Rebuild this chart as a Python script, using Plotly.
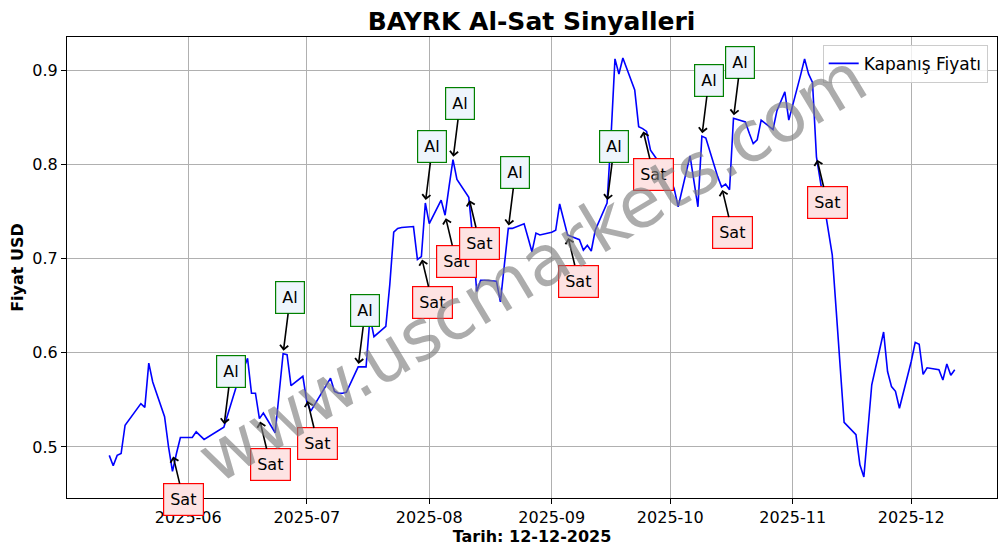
import plotly.graph_objects as go
import pandas as pd

# ---- data ----
dates = [
    "2025-05-12", "2025-05-13", "2025-05-14", "2025-05-15", "2025-05-16",
    "2025-05-20", "2025-05-21", "2025-05-22", "2025-05-23", "2025-05-26",
    "2025-05-27", "2025-05-28", "2025-05-29", "2025-05-30",
    "2025-06-02", "2025-06-03", "2025-06-04", "2025-06-05", "2025-06-10",
    "2025-06-11", "2025-06-12", "2025-06-13", "2025-06-16", "2025-06-17",
    "2025-06-18", "2025-06-19", "2025-06-20", "2025-06-23", "2025-06-24",
    "2025-06-25", "2025-06-26", "2025-06-27", "2025-06-30",
    "2025-07-01", "2025-07-02", "2025-07-03", "2025-07-04", "2025-07-07",
    "2025-07-08", "2025-07-09", "2025-07-10", "2025-07-11", "2025-07-14",
    "2025-07-16", "2025-07-17", "2025-07-18", "2025-07-21", "2025-07-22",
    "2025-07-23", "2025-07-24", "2025-07-25", "2025-07-28", "2025-07-29",
    "2025-07-30", "2025-07-31",
    "2025-08-01", "2025-08-04", "2025-08-05", "2025-08-06", "2025-08-07",
    "2025-08-08", "2025-08-11", "2025-08-12", "2025-08-13", "2025-08-14",
    "2025-08-15", "2025-08-18", "2025-08-19", "2025-08-20", "2025-08-21",
    "2025-08-22", "2025-08-25", "2025-08-26", "2025-08-27", "2025-08-28",
    "2025-08-29",
    "2025-09-01", "2025-09-02", "2025-09-03", "2025-09-04", "2025-09-05",
    "2025-09-08", "2025-09-09", "2025-09-10", "2025-09-11", "2025-09-12",
    "2025-09-15", "2025-09-16", "2025-09-17", "2025-09-18", "2025-09-19",
    "2025-09-22", "2025-09-23", "2025-09-24", "2025-09-25", "2025-09-26",
    "2025-09-29", "2025-09-30",
    "2025-10-01", "2025-10-02", "2025-10-03", "2025-10-06", "2025-10-07",
    "2025-10-08", "2025-10-09", "2025-10-10", "2025-10-13", "2025-10-14",
    "2025-10-15", "2025-10-16", "2025-10-17", "2025-10-20", "2025-10-21",
    "2025-10-22", "2025-10-23", "2025-10-24", "2025-10-27", "2025-10-28",
    "2025-10-30", "2025-10-31",
    "2025-11-03", "2025-11-04", "2025-11-05", "2025-11-06", "2025-11-07",
    "2025-11-10", "2025-11-11", "2025-11-12", "2025-11-13", "2025-11-14",
    "2025-11-17", "2025-11-18", "2025-11-19", "2025-11-20", "2025-11-21",
    "2025-11-24", "2025-11-25", "2025-11-26", "2025-11-27", "2025-11-28",
    "2025-12-01", "2025-12-02", "2025-12-03", "2025-12-04", "2025-12-05",
    "2025-12-08", "2025-12-09", "2025-12-10", "2025-12-11", "2025-12-12",
]

closes = [
    0.491, 0.480, 0.491, 0.493, 0.523,
    0.546, 0.542, 0.589, 0.569, 0.532,
    0.500, 0.474, 0.493, 0.510,
    0.510, 0.516, 0.512, 0.508, 0.521,
    0.535, 0.549, 0.562, 0.594, 0.557,
    0.557, 0.530, 0.536, 0.515, 0.557,
    0.599, 0.598, 0.565, 0.575,
    0.548, 0.538, 0.545, 0.552, 0.573,
    0.559, 0.557, 0.557, 0.558, 0.585,
    0.585, 0.638, 0.617, 0.628, 0.672,
    0.728, 0.732, 0.733, 0.734, 0.699,
    0.702, 0.759,
    0.737, 0.762, 0.746, 0.776, 0.805,
    0.784, 0.765, 0.722, 0.665, 0.677,
    0.677, 0.676, 0.654, 0.693, 0.732,
    0.732, 0.737, 0.722, 0.707, 0.727,
    0.725,
    0.728, 0.730, 0.758, 0.741, 0.725,
    0.720, 0.709, 0.714, 0.708, 0.730,
    0.759, 0.829, 0.912, 0.896, 0.913,
    0.879, 0.840, 0.838, 0.835, 0.815,
    0.797, 0.780,
    0.785, 0.774, 0.755, 0.809, 0.782,
    0.755, 0.830, 0.828, 0.787, 0.776,
    0.779, 0.773, 0.849, 0.845, 0.833,
    0.822, 0.826, 0.847, 0.837, 0.857,
    0.877, 0.847,
    0.895, 0.912, 0.896, 0.887, 0.808,
    0.730, 0.704, 0.645, 0.586, 0.526,
    0.513, 0.481, 0.468, 0.517, 0.566,
    0.622, 0.580, 0.564, 0.559, 0.541,
    0.591, 0.611, 0.609, 0.577, 0.584,
    0.582, 0.571, 0.588, 0.576, 0.582,
]

# signal points (date, price at which the arrow points)
buy_dates = ["2025-06-10", "2025-06-25", "2025-07-14", "2025-07-31", "2025-08-07",
             "2025-08-21", "2025-09-15", "2025-10-09", "2025-10-17"]
buy_prices = [0.521, 0.599, 0.585, 0.759, 0.805, 0.732, 0.759, 0.830, 0.849]
sell_dates = ["2025-05-28", "2025-06-19", "2025-07-01", "2025-07-30", "2025-08-05",
              "2025-08-11", "2025-09-05", "2025-09-24", "2025-10-14", "2025-11-07"]
sell_prices = [0.493, 0.530, 0.552, 0.702, 0.746, 0.765, 0.725, 0.838, 0.776, 0.808]

title_text = "BAYRK Al-Sat Sinyalleri"
x_label = "Tarih: 12-12-2025"
y_label = "Fiyat USD"
series_name = "Kapanış Fiyatı"
watermark = "www.uscmarkets.com"
y_ticks = [0.5, 0.6, 0.7, 0.8, 0.9]

# ---- figure ----
FONT = "DejaVu Sans"
price = pd.Series(closes, index=pd.to_datetime(dates))

fig = go.Figure()
fig.add_trace(go.Scatter(
    x=price.index, y=price.values, mode="lines", name=series_name,
    line=dict(color="#0000ff", width=1.6),
))

annotations = []
for d, p in zip(buy_dates, buy_prices):
    annotations.append(dict(
        x=pd.Timestamp(d), y=p, xref="x", yref="y",
        text="Al", showarrow=True, ax=7, ay=-56, standoff=3,
        arrowhead=4, arrowsize=1, arrowwidth=1.6, arrowcolor="black",
        font=dict(family=FONT, size=16, color="black"),
        bgcolor="#eef5fc", bordercolor="green", borderwidth=1.2, borderpad=6,
    ))
for d, p in zip(sell_dates, sell_prices):
    annotations.append(dict(
        x=pd.Timestamp(d), y=p, xref="x", yref="y",
        text="Sat", showarrow=True, ax=11, ay=46, standoff=3,
        arrowhead=4, arrowsize=1, arrowwidth=1.6, arrowcolor="black",
        font=dict(family=FONT, size=16, color="black"),
        bgcolor="#fde3e3", bordercolor="red", borderwidth=1.2, borderpad=6,
    ))

annotations.append(dict(
    x=0.5, y=0.5, xref="paper", yref="paper", text=watermark, showarrow=False,
    textangle=-31, font=dict(family=FONT, size=70, color="rgba(128,128,128,0.65)"),
))

# axis ranges with 5% margins like matplotlib
xmin, xmax = price.index.min(), price.index.max()
span = xmax - xmin
ymin, ymax = min(closes), max(closes)
yspan = ymax - ymin

# the page body adds an 8px offset, so the figure is 8px smaller each way
fig.update_layout(
    width=998, height=546,
    margin=dict(l=59, r=9, t=29, b=56, autoexpand=False),
    paper_bgcolor="white", plot_bgcolor="white",
    font=dict(family=FONT, size=16, color="black"),
    title=dict(text="<b>" + title_text + "</b>", x=0.5246, xref="container", xanchor="center",
               y=0.976, yref="container", yanchor="middle", font=dict(family=FONT, size=25)),
    showlegend=True,
    legend=dict(x=0.99, y=0.983, xanchor="right", yanchor="top",
                bgcolor="rgba(255,255,255,0.8)", bordercolor="#cccccc", borderwidth=1,
                font=dict(family=FONT, size=17)),
    annotations=annotations,
)
fig.update_xaxes(
    automargin=False,
    range=[xmin - span * 0.05, xmax + span * 0.05],
    dtick="M1", tickformat="%Y-%m", tick0="2025-06-01",
    showgrid=True, gridcolor="#b0b0b0", gridwidth=1,
    showline=True, linecolor="black", linewidth=1, mirror=True,
    ticks="outside", ticklen=5, tickcolor="black",
    title=dict(text="<b>" + x_label + "</b>", font=dict(family=FONT, size=16), standoff=2),
    tickfont=dict(family=FONT, size=16),
)
fig.update_yaxes(
    automargin=False,
    range=[ymin - yspan * 0.05, ymax + yspan * 0.05],
    tickvals=y_ticks, ticktext=[f"{v:.1f}" for v in y_ticks],
    showgrid=True, gridcolor="#b0b0b0", gridwidth=1,
    showline=True, linecolor="black", linewidth=1, mirror=True,
    ticks="outside", ticklen=5, tickcolor="black",
    title=dict(text="<b>" + y_label + "</b>", font=dict(family=FONT, size=16), standoff=8),
    tickfont=dict(family=FONT, size=16),
)

fig.write_html("out.html")
